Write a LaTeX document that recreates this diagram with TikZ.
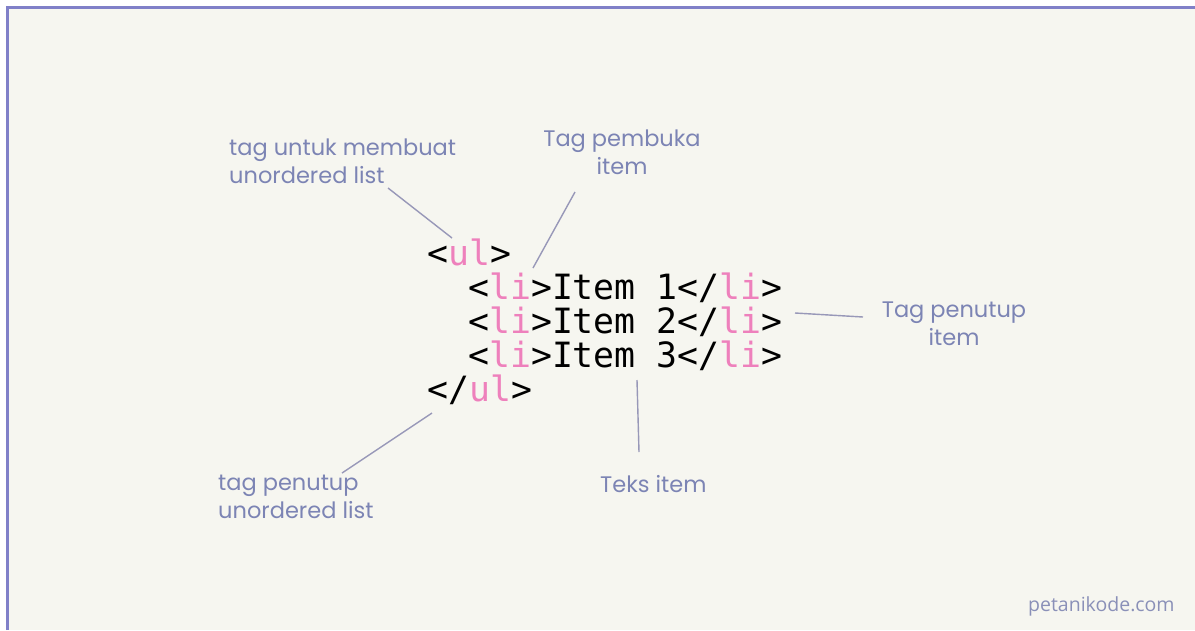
\documentclass[tikz,border=0pt]{standalone}
\usepackage{fontspec}
\newfontfamily\codefont{DejaVu Sans Mono}
\newfontfamily\labelfont{Poppins}
\newfontfamily\sitefont{Open Sans}
\definecolor{bg}{HTML}{F6F6F0}
\definecolor{frame}{HTML}{8080C8}
\definecolor{lbl}{HTML}{7C84B4}
\definecolor{conn}{HTML}{9898B8}
\definecolor{tagpink}{HTML}{EE80BC}
\definecolor{site}{HTML}{8A90B8}
\tikzset{
  codeline/.style={anchor=base west, inner sep=0pt, font=\codefont\fontsize{34.8}{34}\selectfont, text=black},
  annot/.style={inner sep=0pt, text=lbl, font=\labelfont\fontsize{22.5}{28}\selectfont},
  conline/.style={draw=conn, line width=1.4pt},
}
\newcommand{\pk}[1]{\textcolor{tagpink}{#1}}
\begin{document}
\begin{tikzpicture}[x=1pt,y=-1pt]
\useasboundingbox (0,0) rectangle (1195,630);
\fill[white] (0,0) rectangle (1195,630);
\fill[bg] (7.5,7.5) rectangle (1195,630);
\draw[frame, line width=3pt] (7.5,630) -- (7.5,7.5) -- (1195,7.5);

% code
\node[codeline] (ulopen) at (427,265) {<\pk{ul}>};
\node[codeline] (li1) at (468,299) {<\pk{li}>Item 1</\pk{li}>};
\node[codeline] (li2) at (468,333) {<\pk{li}>Item 2</\pk{li}>};
\node[codeline] (li3) at (468,367) {<\pk{li}>Item 3</\pk{li}>};
\node[codeline] (ulclose) at (427,401) {</\pk{ul}>};

% labels (base anchor = baseline of last line)
\node[annot, anchor=base west, align=left] (lblul) at (229,183) {tag untuk membuat\\unordered list};
\node[annot, anchor=base, align=center] (lblopen) at (622,174) {Tag pembuka\\item};
\node[annot, anchor=base, align=center] (lblclose) at (954,345) {Tag penutup\\item};
\node[annot, anchor=base west, align=left] (lblulend) at (218,518) {tag penutup\\unordered list};
\node[annot, anchor=base west] (lbltext) at (600,492) {Teks item};
\node[anchor=base west, inner sep=0pt, text=site, font=\sitefont\fontsize{19.5}{22}\selectfont] (site) at (1028,611) {petanikode.com};

% connector end points
\coordinate (a1) at (388,188); \coordinate (a2) at (452,238);
\coordinate (b1) at (575,192); \coordinate (b2) at (533,268);
\coordinate (c1) at (795,313); \coordinate (c2) at (863,317);
\coordinate (d1) at (637,380); \coordinate (d2) at (639,452);
\coordinate (e1) at (432,413); \coordinate (e2) at (342,473);
\draw[conline] (a1) -- (a2);
\draw[conline] (b1) -- (b2);
\draw[conline] (c1) -- (c2);
\draw[conline] (d1) -- (d2);
\draw[conline] (e1) -- (e2);
\end{tikzpicture}
\end{document}
